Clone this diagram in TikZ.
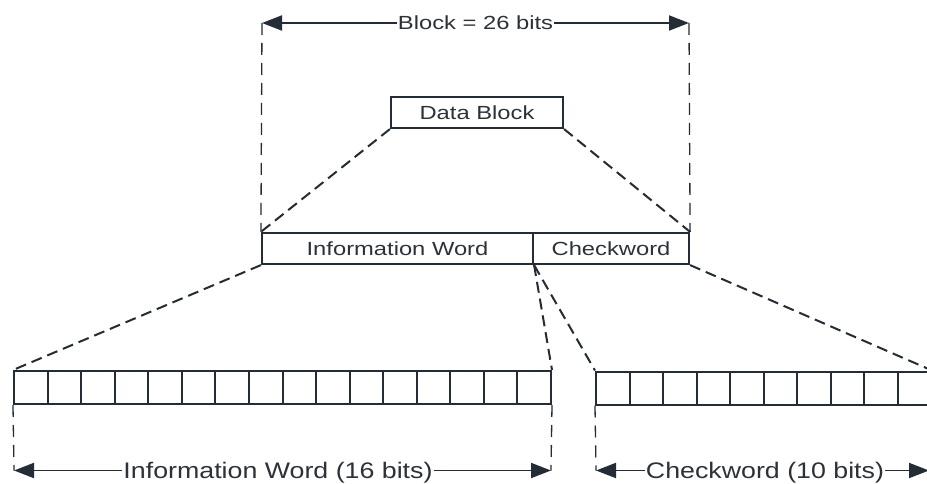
\documentclass[tikz,border=0pt]{standalone}
\usepackage{fontspec}
\setmainfont{Liberation Sans}
\newfontfamily\midfont[FakeStretch=1.25]{Liberation Sans}
\newfontfamily\botfont[FakeStretch=1.19]{Liberation Sans}
\usetikzlibrary{arrows.meta}
\definecolor{ink}{RGB}{36,44,54}
\definecolor{txt}{RGB}{45,49,56}
\begin{document}
\begin{tikzpicture}[x=1pt,y=-1pt,
  box/.style={draw=ink, line width=2.2pt, inner sep=0pt, minimum height=31pt,
    text=txt, font=\midfont\fontsize{19}{22}\selectfont, text height=13.5pt, text depth=0pt},
  cell/.style={draw=ink, line width=2pt, minimum height=33pt, inner sep=0pt},
  dsh/.style={draw=ink, line width=2pt, dash pattern=on 11pt off 6pt},
  vdsh/.style={draw=ink, line width=1.3pt, dash pattern=on 12pt off 8pt},
  dim/.style={draw=ink, line width=1.9pt, -{Triangle[length=20pt,width=15pt]}},
  toplbl/.style={text=txt, inner sep=1pt, font=\midfont\fontsize{19}{22}\selectfont, text height=13.5pt, text depth=0pt},
  botlbl/.style={text=txt, inner sep=1pt, font=\botfont\fontsize{22.5}{26}\selectfont, text height=16pt, text depth=0pt}]
\useasboundingbox (0,0) rectangle (927,484);
\clip (0,0) rectangle (927,484);
\fill[white] (0,0) rectangle (927,484);

% top dimension
\node[toplbl] (blk) at (475.5,23) {Block = 26 bits};
\coordinate (tl) at (262,23);
\coordinate (tr) at (689,23);
\draw[dim] (blk.west) -- (tl);
\draw[dim] (blk.east) -- (tr);

% boxes
\node[box, minimum width=172pt] (db) at (477,112.5) {Data Block};
\node[box, minimum width=271pt] (iw) at (397.5,248.5) {Information Word};
\node[box, minimum width=156pt] (cw) at (611,248.5) {Checkword};

% top verticals
\draw[vdsh] (tl) -- (iw.north west);
\draw[vdsh] (tr) -- (cw.north east);

% diagonals from data block
\draw[dsh] (db.south west) -- (iw.north west);
\draw[dsh] (db.south east) -- (cw.north east);

% bit rows
\foreach \i in {0,...,15}
  \node[cell, minimum width=33.5625pt] (L\i) at ({14+33.5625*(\i+0.5)},387.5) {};
\foreach \i in {0,...,9}
  \node[cell, minimum width=33.5pt] (R\i) at ({596+33.5*(\i+0.5)},388) {};

% diagonals to rows
\draw[dsh] (iw.south west) -- (L0.north west);
\draw[dsh] (iw.south east) -- (L15.north east);
\draw[dsh] (iw.south east) -- (R0.north west);
\draw[dsh] (cw.south east) -- (R9.north east);

% bottom dimensions
\node[botlbl] (iwl) at (278,470.5) {Information Word (16 bits)};
\coordinate (a1) at (14,470.5);
\coordinate (a2) at (551,470.5);
\draw[dim] (iwl.west) -- (a1);
\draw[dim] (iwl.east) -- (a2);
\node[botlbl] (cwl) at (765,470.5) {Checkword (10 bits)};
\coordinate (a3) at (596,470.5);
\coordinate (a4) at (929,470.5);
\draw[dim] (cwl.west) -- (a3);
\draw[dim] (cwl.east) -- (a4);

% bottom verticals
\draw[vdsh] (L0.south west) -- (a1);
\draw[vdsh] (L15.south east) -- (a2);
\draw[vdsh] (R0.south west) -- (a3);
\end{tikzpicture}
\end{document}
